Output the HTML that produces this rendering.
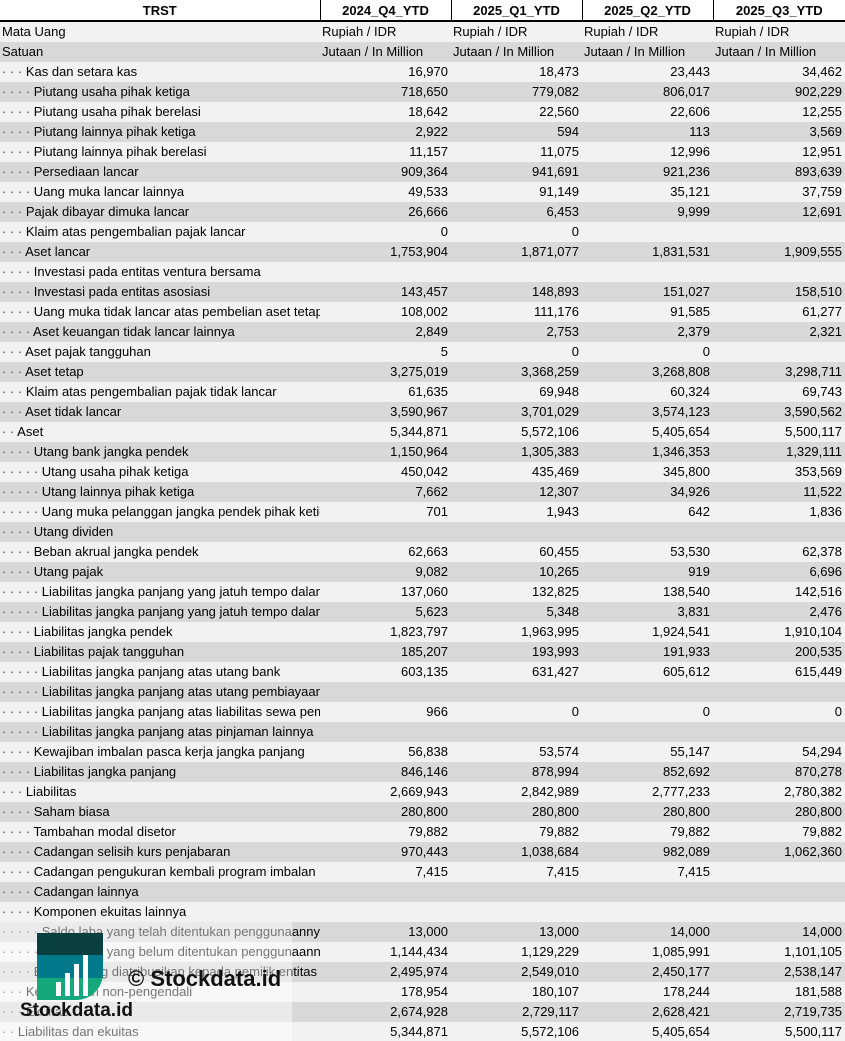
<!DOCTYPE html>
<html><head><meta charset="utf-8"><style>
html,body{margin:0;padding:0;background:#fff;width:845px;height:1041px;overflow:hidden}
table{border-collapse:collapse;table-layout:fixed;width:845px;font-family:"Liberation Sans",Arial,sans-serif;font-size:13px;color:#000}
td{height:20px;padding:0 2px;white-space:nowrap;overflow:hidden;line-height:20px;box-sizing:border-box}
td.n{text-align:right;padding-right:3px}
tr:nth-child(odd) td{background:#d9d9d9}
tr:nth-child(even) td{background:#f2f2f2}
tr.h td{background:#fff;font-weight:bold;text-align:center;border-left:1px solid #000;border-bottom:2px solid #000;height:21px;line-height:19px}
tr.h td:first-child{border-left:none}
.d{color:#444;letter-spacing:0px}
#wm{position:absolute;left:0;top:922px;width:292px;height:119px;background:rgba(255,255,255,0.45)}
</style></head><body>
<div style="position:relative">
<table>
<colgroup><col style="width:320px"><col style="width:131px"><col style="width:131px"><col style="width:131px"><col style="width:132px"></colgroup>
<tr class="h"><td>TRST</td><td>2024_Q4_YTD</td><td>2025_Q1_YTD</td><td>2025_Q2_YTD</td><td>2025_Q3_YTD</td></tr>
<tr><td>Mata Uang</td><td>Rupiah / IDR</td><td>Rupiah / IDR</td><td>Rupiah / IDR</td><td>Rupiah / IDR</td></tr>
<tr><td>Satuan</td><td>Jutaan / In Million</td><td>Jutaan / In Million</td><td>Jutaan / In Million</td><td>Jutaan / In Million</td></tr>
<tr><td><span class="d">· · · </span>Kas dan setara kas</td><td class="n">16,970</td><td class="n">18,473</td><td class="n">23,443</td><td class="n">34,462</td></tr>
<tr><td><span class="d">· · · · </span>Piutang usaha pihak ketiga</td><td class="n">718,650</td><td class="n">779,082</td><td class="n">806,017</td><td class="n">902,229</td></tr>
<tr><td><span class="d">· · · · </span>Piutang usaha pihak berelasi</td><td class="n">18,642</td><td class="n">22,560</td><td class="n">22,606</td><td class="n">12,255</td></tr>
<tr><td><span class="d">· · · · </span>Piutang lainnya pihak ketiga</td><td class="n">2,922</td><td class="n">594</td><td class="n">113</td><td class="n">3,569</td></tr>
<tr><td><span class="d">· · · · </span>Piutang lainnya pihak berelasi</td><td class="n">11,157</td><td class="n">11,075</td><td class="n">12,996</td><td class="n">12,951</td></tr>
<tr><td><span class="d">· · · · </span>Persediaan lancar</td><td class="n">909,364</td><td class="n">941,691</td><td class="n">921,236</td><td class="n">893,639</td></tr>
<tr><td><span class="d">· · · · </span>Uang muka lancar lainnya</td><td class="n">49,533</td><td class="n">91,149</td><td class="n">35,121</td><td class="n">37,759</td></tr>
<tr><td><span class="d">· · · </span>Pajak dibayar dimuka lancar</td><td class="n">26,666</td><td class="n">6,453</td><td class="n">9,999</td><td class="n">12,691</td></tr>
<tr><td><span class="d">· · · </span>Klaim atas pengembalian pajak lancar</td><td class="n">0</td><td class="n">0</td><td class="n"></td><td class="n"></td></tr>
<tr><td><span class="d">· · · </span>Aset lancar</td><td class="n">1,753,904</td><td class="n">1,871,077</td><td class="n">1,831,531</td><td class="n">1,909,555</td></tr>
<tr><td><span class="d">· · · · </span>Investasi pada entitas ventura bersama</td><td></td><td></td><td></td><td></td></tr>
<tr><td><span class="d">· · · · </span>Investasi pada entitas asosiasi</td><td class="n">143,457</td><td class="n">148,893</td><td class="n">151,027</td><td class="n">158,510</td></tr>
<tr><td><span class="d">· · · · </span>Uang muka tidak lancar atas pembelian aset tetap</td><td class="n">108,002</td><td class="n">111,176</td><td class="n">91,585</td><td class="n">61,277</td></tr>
<tr><td><span class="d">· · · · </span>Aset keuangan tidak lancar lainnya</td><td class="n">2,849</td><td class="n">2,753</td><td class="n">2,379</td><td class="n">2,321</td></tr>
<tr><td><span class="d">· · · </span>Aset pajak tangguhan</td><td class="n">5</td><td class="n">0</td><td class="n">0</td><td class="n"></td></tr>
<tr><td><span class="d">· · · </span>Aset tetap</td><td class="n">3,275,019</td><td class="n">3,368,259</td><td class="n">3,268,808</td><td class="n">3,298,711</td></tr>
<tr><td><span class="d">· · · </span>Klaim atas pengembalian pajak tidak lancar</td><td class="n">61,635</td><td class="n">69,948</td><td class="n">60,324</td><td class="n">69,743</td></tr>
<tr><td><span class="d">· · · </span>Aset tidak lancar</td><td class="n">3,590,967</td><td class="n">3,701,029</td><td class="n">3,574,123</td><td class="n">3,590,562</td></tr>
<tr><td><span class="d">· · </span>Aset</td><td class="n">5,344,871</td><td class="n">5,572,106</td><td class="n">5,405,654</td><td class="n">5,500,117</td></tr>
<tr><td><span class="d">· · · · </span>Utang bank jangka pendek</td><td class="n">1,150,964</td><td class="n">1,305,383</td><td class="n">1,346,353</td><td class="n">1,329,111</td></tr>
<tr><td><span class="d">· · · · · </span>Utang usaha pihak ketiga</td><td class="n">450,042</td><td class="n">435,469</td><td class="n">345,800</td><td class="n">353,569</td></tr>
<tr><td><span class="d">· · · · · </span>Utang lainnya pihak ketiga</td><td class="n">7,662</td><td class="n">12,307</td><td class="n">34,926</td><td class="n">11,522</td></tr>
<tr><td><span class="d">· · · · · </span>Uang muka pelanggan jangka pendek pihak ketiga</td><td class="n">701</td><td class="n">1,943</td><td class="n">642</td><td class="n">1,836</td></tr>
<tr><td><span class="d">· · · · </span>Utang dividen</td><td></td><td></td><td></td><td></td></tr>
<tr><td><span class="d">· · · · </span>Beban akrual jangka pendek</td><td class="n">62,663</td><td class="n">60,455</td><td class="n">53,530</td><td class="n">62,378</td></tr>
<tr><td><span class="d">· · · · </span>Utang pajak</td><td class="n">9,082</td><td class="n">10,265</td><td class="n">919</td><td class="n">6,696</td></tr>
<tr><td><span class="d">· · · · · </span>Liabilitas jangka panjang yang jatuh tempo dalam satu tahun</td><td class="n">137,060</td><td class="n">132,825</td><td class="n">138,540</td><td class="n">142,516</td></tr>
<tr><td><span class="d">· · · · · </span>Liabilitas jangka panjang yang jatuh tempo dalam satu tahun</td><td class="n">5,623</td><td class="n">5,348</td><td class="n">3,831</td><td class="n">2,476</td></tr>
<tr><td><span class="d">· · · · </span>Liabilitas jangka pendek</td><td class="n">1,823,797</td><td class="n">1,963,995</td><td class="n">1,924,541</td><td class="n">1,910,104</td></tr>
<tr><td><span class="d">· · · · </span>Liabilitas pajak tangguhan</td><td class="n">185,207</td><td class="n">193,993</td><td class="n">191,933</td><td class="n">200,535</td></tr>
<tr><td><span class="d">· · · · · </span>Liabilitas jangka panjang atas utang bank</td><td class="n">603,135</td><td class="n">631,427</td><td class="n">605,612</td><td class="n">615,449</td></tr>
<tr><td><span class="d">· · · · · </span>Liabilitas jangka panjang atas utang pembiayaan konsumen</td><td></td><td></td><td></td><td></td></tr>
<tr><td><span class="d">· · · · · </span>Liabilitas jangka panjang atas liabilitas sewa pembiayaan</td><td class="n">966</td><td class="n">0</td><td class="n">0</td><td class="n">0</td></tr>
<tr><td><span class="d">· · · · · </span>Liabilitas jangka panjang atas pinjaman lainnya</td><td></td><td></td><td></td><td></td></tr>
<tr><td><span class="d">· · · · </span>Kewajiban imbalan pasca kerja jangka panjang</td><td class="n">56,838</td><td class="n">53,574</td><td class="n">55,147</td><td class="n">54,294</td></tr>
<tr><td><span class="d">· · · · </span>Liabilitas jangka panjang</td><td class="n">846,146</td><td class="n">878,994</td><td class="n">852,692</td><td class="n">870,278</td></tr>
<tr><td><span class="d">· · · </span>Liabilitas</td><td class="n">2,669,943</td><td class="n">2,842,989</td><td class="n">2,777,233</td><td class="n">2,780,382</td></tr>
<tr><td><span class="d">· · · · </span>Saham biasa</td><td class="n">280,800</td><td class="n">280,800</td><td class="n">280,800</td><td class="n">280,800</td></tr>
<tr><td><span class="d">· · · · </span>Tambahan modal disetor</td><td class="n">79,882</td><td class="n">79,882</td><td class="n">79,882</td><td class="n">79,882</td></tr>
<tr><td><span class="d">· · · · </span>Cadangan selisih kurs penjabaran</td><td class="n">970,443</td><td class="n">1,038,684</td><td class="n">982,089</td><td class="n">1,062,360</td></tr>
<tr><td><span class="d">· · · · </span>Cadangan pengukuran kembali program imbalan pasti</td><td class="n">7,415</td><td class="n">7,415</td><td class="n">7,415</td><td class="n"></td></tr>
<tr><td><span class="d">· · · · </span>Cadangan lainnya</td><td></td><td></td><td></td><td></td></tr>
<tr><td><span class="d">· · · · </span>Komponen ekuitas lainnya</td><td></td><td></td><td></td><td></td></tr>
<tr><td><span class="d">· · · · · </span>Saldo laba yang telah ditentukan penggunaannya</td><td class="n">13,000</td><td class="n">13,000</td><td class="n">14,000</td><td class="n">14,000</td></tr>
<tr><td><span class="d">· · · · · </span>Saldo laba yang belum ditentukan penggunaannya</td><td class="n">1,144,434</td><td class="n">1,129,229</td><td class="n">1,085,991</td><td class="n">1,101,105</td></tr>
<tr><td><span class="d">· · · · </span>Ekuitas yang diatribusikan kepada pemilik entitas induk</td><td class="n">2,495,974</td><td class="n">2,549,010</td><td class="n">2,450,177</td><td class="n">2,538,147</td></tr>
<tr><td><span class="d">· · · </span>Kepentingan non-pengendali</td><td class="n">178,954</td><td class="n">180,107</td><td class="n">178,244</td><td class="n">181,588</td></tr>
<tr><td><span class="d">· · · </span>Ekuitas</td><td class="n">2,674,928</td><td class="n">2,729,117</td><td class="n">2,628,421</td><td class="n">2,719,735</td></tr>
<tr><td><span class="d">· · </span>Liabilitas dan ekuitas</td><td class="n">5,344,871</td><td class="n">5,572,106</td><td class="n">5,405,654</td><td class="n">5,500,117</td></tr>
</table>
<div id="wm"></div>
<svg style="position:absolute;left:37px;top:933px" width="66" height="67" viewBox="0 0 66 67">
<defs><clipPath id="c"><path d="M0,0 H66 V40 A27,27 0 0 1 39,67 H0 Z"/></clipPath></defs>
<g clip-path="url(#c)">
<rect x="0" y="0" width="66" height="22" fill="#0a3f3f"/>
<rect x="0" y="22" width="66" height="23" fill="#007a8a"/>
<rect x="0" y="45" width="66" height="22" fill="#14a87a"/>
</g>
<rect x="19" y="49" width="5" height="14" fill="#fff"/>
<rect x="28" y="40" width="5" height="23" fill="#fff"/>
<rect x="37" y="31" width="5" height="32" fill="#fff"/>
<rect x="46" y="22" width="5" height="41" fill="#fff"/>
</svg>
<div style="position:absolute;left:128px;top:966px;font:bold 22px 'Liberation Sans',sans-serif;color:#111">© Stockdata.id</div>
<div style="position:absolute;left:20px;top:1000px;font:bold 19px 'Liberation Sans',sans-serif;color:#111">Stockdata.id</div>
</div>
</body></html>
